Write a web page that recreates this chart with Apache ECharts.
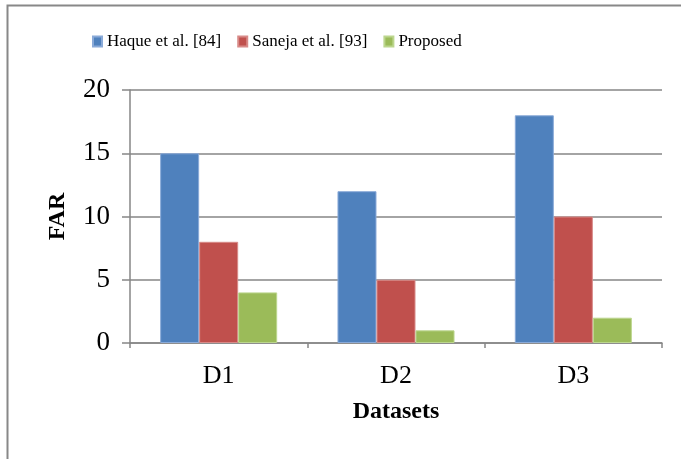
<!DOCTYPE html>
<html><head><meta charset="utf-8">
<script src="https://cdn.jsdelivr.net/npm/echarts@6/dist/echarts.min.js"></script>
<style>html,body{margin:0;padding:0;background:#fff}#c{width:681px;height:459px}</style>
</head><body><div id="c"></div>
<script>
const categories = ['D1', 'D2', 'D3'];
const seriesNames = ['Haque et al. [84]', 'Saneja et al. [93]', 'Proposed'];
const haque = [15, 12, 18];
const saneja = [8, 5, 10];
const proposed = [4, 1, 2];
const yTicks = [0, 5, 10, 15, 20];

const colors = ['#4F81BD', '#C0504D', '#9BBB59'];
const borders = ['#8AAAD8', '#D88A88', '#BCD68E'];
const font = '"Liberation Serif", "Times New Roman", serif';
const values = [haque, saneja, proposed];

const chart = echarts.init(document.getElementById('c'), null, {renderer: 'canvas'});
chart.setOption({
  animation: false,
  backgroundColor: '#fff',
  graphic: [{
    type: 'polyline', silent: true,
    shape: {points: [[7.5, 459], [7.5, 5.5], [681, 5.5]]},
    style: {stroke: '#888', lineWidth: 2, fill: null}
  }],
  legend: {
    left: 87, top: 28,
    itemWidth: 9, itemHeight: 10, itemGap: 16,
    icon: 'rect',
    textStyle: {fontFamily: font, fontSize: 17, color: '#000'},
    data: seriesNames
  },
  grid: {left: 130, right: 19, top: 90, bottom: 116, containLabel: false},
  xAxis: {
    type: 'category', data: categories,
    name: 'Datasets', nameLocation: 'middle', nameGap: 57,
    nameTextStyle: {fontFamily: font, fontSize: 24, fontWeight: 'bold', color: '#000'},
    axisLine: {lineStyle: {color: '#868686', width: 1.5}},
    axisTick: {show: true, length: 5, lineStyle: {color: '#868686', width: 1.5}},
    axisLabel: {fontFamily: font, fontSize: 26, color: '#000', margin: 20}
  },
  yAxis: {
    type: 'value', min: 0, max: 20, interval: 5,
    name: 'FAR', nameLocation: 'middle', nameGap: 60, nameRotate: 90,
    nameTextStyle: {fontFamily: font, fontSize: 24, fontWeight: 'bold', color: '#000'},
    axisLine: {show: true, lineStyle: {color: '#868686', width: 1.5}},
    axisTick: {show: true, length: 8, lineStyle: {color: '#868686', width: 1.5}},
    axisLabel: {fontFamily: font, fontSize: 27, color: '#000', margin: 20,
      formatter: v => yTicks.includes(v) ? String(v) : ''},
    splitLine: {lineStyle: {color: '#868686', width: 1.5}}
  },
  series: seriesNames.map((n, i) => ({
    name: n, type: 'bar', data: values[i],
    barGap: '0%', barCategoryGap: '34%',
    itemStyle: {color: colors[i], borderColor: borders[i], borderWidth: 1}
  }))
});
</script></body></html>
